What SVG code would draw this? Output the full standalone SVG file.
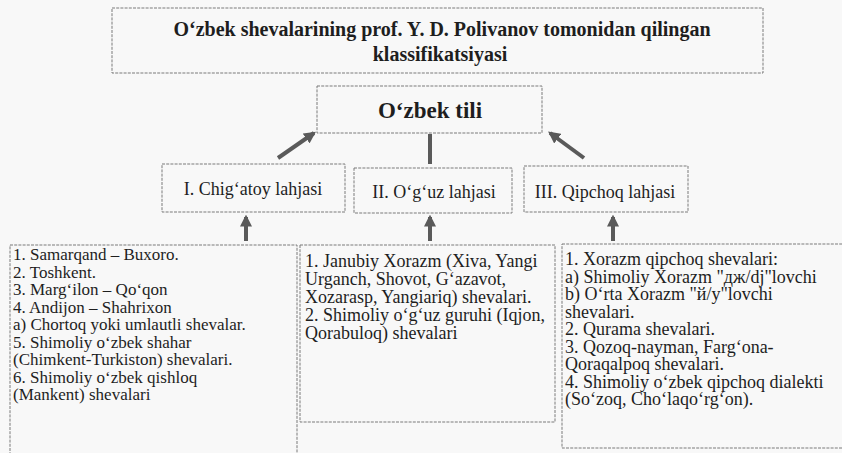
<svg xmlns="http://www.w3.org/2000/svg" width="842" height="453" viewBox="0 0 842 453">
<defs>
<style>
.box{fill:none;stroke:#7a7a7a;stroke-width:1;stroke-dasharray:3 1.2}
.t{font-family:'Liberation Serif','Times New Roman',serif;fill:#1e1e1e}
.title{font-size:20px;font-weight:bold;text-anchor:middle}
.root{font-size:23px;font-weight:bold;text-anchor:middle}
.lab{font-size:18px;text-anchor:middle}
.b1{font-size:17px}
.b2{font-size:18px}
.conn{stroke:#5a5a5a;stroke-width:4;fill:none}
</style>
<marker id="ah" viewBox="0 0 10 10" refX="8" refY="5" markerWidth="3" markerHeight="3" orient="auto" markerUnits="strokeWidth">
<path d="M0,0 L10,5 L0,10 z" fill="#5a5a5a"/>
</marker>
</defs>
<rect width="842" height="453" fill="#f8f8f8"/>

<g id="title">
<rect class="box" x="112" y="8" width="651" height="65"/>
<text class="t title" x="442" y="36">O‘zbek shevalarining prof. Y. D. Polivanov tomonidan qilingan</text>
<text class="t title" x="440" y="61">klassifikatsiyasi</text>
</g>

<g id="root">
<rect class="box" x="317" y="86" width="225" height="47"/>
<text class="t root" x="430" y="118">O‘zbek tili</text>
</g>

<g id="chigatoy">
<rect class="box" x="162" y="164" width="183" height="48"/>
<text class="t lab" x="253" y="195">I. Chig‘atoy lahjasi</text>
</g>

<g id="oguz">
<rect class="box" x="354" y="168" width="158" height="45"/>
<text class="t lab" x="434" y="198">II. O‘g‘uz lahjasi</text>
</g>

<g id="qipchoq">
<rect class="box" x="524" y="166" width="164" height="46"/>
<text class="t lab" x="605" y="198">III. Qipchoq lahjasi</text>
</g>

<g id="list1">
<rect class="box" x="10" y="245" width="287" height="215"/>
<text class="t b1">
<tspan x="13" y="260">1. Samarqand – Buxoro.</tspan>
<tspan x="13" y="277.5">2. Toshkent.</tspan>
<tspan x="13" y="295">3. Marg‘ilon – Qo‘qon</tspan>
<tspan x="13" y="312.5">4. Andijon – Shahrixon</tspan>
<tspan x="13" y="330">a) Chortoq yoki umlautli shevalar.</tspan>
<tspan x="13" y="347.5">5. Shimoliy o‘zbek shahar</tspan>
<tspan x="13" y="365">(Chimkent-Turkiston) shevalari.</tspan>
<tspan x="13" y="382.5">6. Shimoliy o‘zbek qishloq</tspan>
<tspan x="13" y="400">(Mankent) shevalari</tspan>
</text>
</g>

<g id="list2">
<rect class="box" x="300" y="245" width="255" height="177"/>
<text class="t b2">
<tspan x="305" y="267">1. Janubiy Xorazm (Xiva, Yangi</tspan>
<tspan x="305" y="285">Urganch, Shovot, G‘azavot,</tspan>
<tspan x="305" y="303">Xozarasp, Yangiariq) shevalari.</tspan>
<tspan x="305" y="321">2. Shimoliy o‘g‘uz guruhi (Iqjon,</tspan>
<tspan x="305" y="339">Qorabuloq) shevalari</tspan>
</text>
</g>

<g id="list3">
<rect class="box" x="562" y="244" width="290" height="204"/>
<text class="t b2">
<tspan x="565" y="265">1. Xorazm qipchoq shevalari:</tspan>
<tspan x="565" y="282.5">a) Shimoliy Xorazm "дж/dj"lovchi</tspan>
<tspan x="565" y="300">b) O‘rta Xorazm "й/y"lovchi</tspan>
<tspan x="565" y="317.5">shevalari.</tspan>
<tspan x="565" y="335">2. Qurama shevalari.</tspan>
<tspan x="565" y="352.5">3. Qozoq-nayman, Farg‘ona-</tspan>
<tspan x="565" y="370">Qoraqalpoq shevalari.</tspan>
<tspan x="565" y="387.5">4. Shimoliy o‘zbek qipchoq dialekti</tspan>
<tspan x="565" y="405">(So‘zoq, Cho‘laqo‘rg‘on).</tspan>
</text>
</g>

<g id="connectors">
<line class="conn" x1="278" y1="158" x2="314" y2="133" marker-end="url(#ah)"/>
<line class="conn" x1="430" y1="134" x2="430" y2="164"/>
<line class="conn" x1="584" y1="158" x2="550" y2="133" marker-end="url(#ah)"/>
<line class="conn" x1="246" y1="241" x2="246" y2="217" marker-end="url(#ah)"/>
<line class="conn" x1="430" y1="241" x2="430" y2="217" marker-end="url(#ah)"/>
<line class="conn" x1="613" y1="241" x2="613" y2="217" marker-end="url(#ah)"/>
</g>
</svg>
